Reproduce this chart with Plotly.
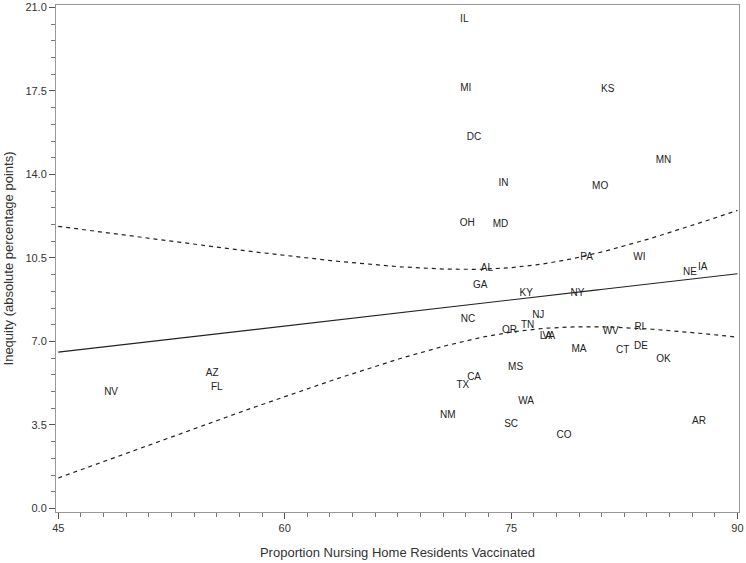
import numpy as np
import plotly.graph_objects as go

states = ["IL","MI","KS","DC","MN","IN","MO","OH","MD","AL","PA","WI","IA","NE","GA","KY","NY","NC","NJ","TN",
          "OR","LA","VA","WV","RI","MA","CT","DE","OK","MS","AZ","FL","CA","TX","NV","WA","NM","SC","CO","AR"]
vaccinated = [71.9,72.0,81.4,72.55,85.1,74.5,80.9,72.1,74.3,73.4,80.0,83.5,87.7,86.85,72.95,76.0,79.4,72.15,76.8,76.1,
              74.9,77.3,77.5,81.6,83.5,79.5,82.4,83.6,85.1,75.3,55.2,55.5,72.55,71.8,48.5,76.0,70.8,75.0,78.5,87.45]
inequity = [20.5,17.6,17.55,15.55,14.6,13.6,13.5,11.95,11.9,10.05,10.5,10.5,10.1,9.9,9.35,9.0,9.0,7.9,8.1,7.65,
            7.45,7.2,7.2,7.4,7.6,6.65,6.6,6.8,6.25,5.9,5.65,5.05,5.5,5.15,4.85,4.5,3.9,3.5,3.05,3.65]

x = np.array(vaccinated)
y = np.array(inequity)
n = len(x)
b1, b0 = np.polyfit(x, y, 1)
resid = y - (b0 + b1 * x)
s = np.sqrt(np.sum(resid ** 2) / (n - 2))
t_crit = 2.024  # t(0.975, df=38)
xg = np.linspace(45, 90, 200)
fit = b0 + b1 * xg
se = s * np.sqrt(1 / n + (xg - x.mean()) ** 2 / np.sum((x - x.mean()) ** 2))
upper = fit + t_crit * se
lower = fit - t_crit * se

fig = go.Figure()
fig.add_trace(go.Scatter(x=xg, y=fit, mode="lines", line=dict(color="#222222", width=1.2), hoverinfo="skip"))
fig.add_trace(go.Scatter(x=xg, y=upper, mode="lines", line=dict(color="#222222", width=1.2, dash="4px,4px"), hoverinfo="skip"))
fig.add_trace(go.Scatter(x=xg, y=lower, mode="lines", line=dict(color="#222222", width=1.2, dash="4px,4px"), hoverinfo="skip"))
fig.add_trace(go.Scatter(x=vaccinated, y=inequity, mode="text", text=states, textposition="middle center",
                         textfont=dict(family="Liberation Sans, Arial", size=10, color="#222222")))

fig.update_layout(
    width=746, height=563,
    margin=dict(l=56, r=7, t=5, b=51, autoexpand=False),
    paper_bgcolor="white", plot_bgcolor="white",
    showlegend=False,
    font=dict(family="Liberation Sans, Arial", size=11, color="#333333"),
)
fig.update_xaxes(
    range=[44.85, 90.1], tickvals=[45, 60, 75, 90], ticktext=["45", "60", "75", "90"],
    ticks="outside", ticklen=6, tickcolor="#555555",
    minor=dict(dtick=1.5, tick0=45, ticks="outside", ticklen=4, tickcolor="#777777"),
    showgrid=False, zeroline=False, automargin=False,
    showline=True, linecolor="#999999", linewidth=1, mirror=True,
    title=dict(text="Proportion Nursing Home Residents Vaccinated", font=dict(size=13), standoff=14),
    tickfont=dict(size=11),
)
fig.update_yaxes(
    range=[-0.15, 21.1], tickvals=[0, 3.5, 7, 10.5, 14, 17.5, 21],
    ticktext=["0.0", "3.5", "7.0", "10.5", "14.0", "17.5", "21.0"],
    ticks="outside", ticklen=6, tickcolor="#555555",
    minor=dict(dtick=0.7, tick0=0, ticks="outside", ticklen=4, tickcolor="#777777"),
    showgrid=False, zeroline=False, automargin=False,
    showline=True, linecolor="#999999", linewidth=1, mirror=True,
    title=dict(text="Inequity (absolute percentage points)", font=dict(size=13), standoff=8),
    tickfont=dict(size=11),
)

fig.write_html("out.html", config={"displayModeBar": False},
               post_script="document.body.style.margin='0';document.body.style.overflow='hidden';")
